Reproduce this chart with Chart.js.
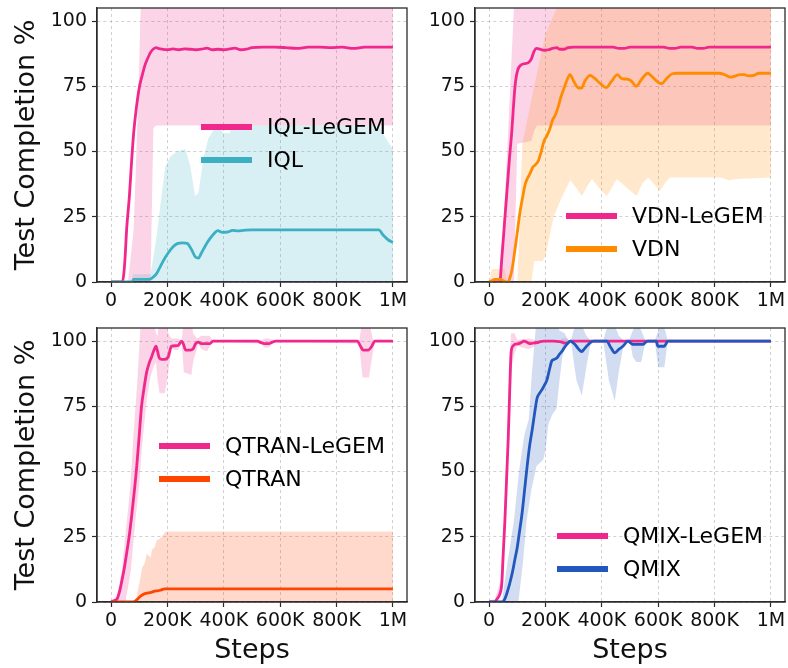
<!DOCTYPE html>
<html>
<head>
<meta charset="utf-8">
<script src="https://cdn.jsdelivr.net/npm/chart.js@4.4.0/dist/chart.umd.min.js"></script>
<style>
  html, body { margin: 0; padding: 0; background: #fff; }
  #wrap { position: relative; width: 788px; height: 668px; }
  canvas { position: absolute; }
</style>
</head>
<body>
<div id="wrap">
  <canvas id="iqlChart" style="left:0;top:0" width="420" height="320"></canvas>
  <canvas id="vdnChart" style="left:420px;top:0" width="368" height="320"></canvas>
  <canvas id="qtranChart" style="left:0;top:320px" width="420" height="348"></canvas>
  <canvas id="qmixChart" style="left:420px;top:320px" width="368" height="348"></canvas>
</div>
<script>
// ejes compartidos (pasos en miles)
const xTicks = [0, 200, 400, 600, 800, 1000];
const xTickLabels = ['0', '200K', '400K', '600K', '800K', '1M'];
const yTicks = [0, 25, 50, 75, 100];

// cada serie: [paso (K), % completado]
const iqlLegemMean = [[0,0],[40,0],[45,3],[50,10],[55,20],[65,33],[72,45],[80,57],[90,67],[101,75],[110,79],[120,83],[127,85],[140,88],[150,89.3],[160,89.8],[170,89.4],[180,89.2],[200,89],[220,89.3],[240,89],[260,89.3],[280,89.2],[300,89],[320,89.2],[340,89.6],[360,89],[380,89.2],[400,89],[420,89.3],[440,89.6],[460,89],[480,89.2],[500,89.8],[540,90],[580,90],[620,89.8],[660,89.5],[700,90],[740,90],[780,89.8],[820,90],[860,89.5],[900,90],[1000,90]];
const iqlLegemHi = [[0,0],[60,0],[80,20],[90,50],[100,85],[106,110],[1000,110]];
const iqlLegemLo = [[0,0],[140,0],[150,59],[160,60],[1000,60]];
const iqlMean = [[0,0],[75,0],[80,1],[135,1],[145,1.5],[160,3],[175,6],[190,9],[205,11.5],[220,13.5],[235,14.7],[255,15],[270,14.8],[285,12.5],[300,9.5],[310,9.2],[320,11],[335,14],[350,16.5],[365,18.5],[378,19.7],[395,19],[415,19.2],[430,19.8],[450,19.6],[470,19.8],[500,20],[950,20],[965,18],[985,16],[1000,15.2]];
const iqlHi = [[0,0],[72,0],[78,3],[140,3],[148,8],[162,18],[178,32],[192,44],[210,48],[233,50],[263,51],[280,45],[298,33],[310,34],[327,47],[345,55],[362,58],[380,60],[398,57],[420,57],[432,60],[950,60],[975,55],[1000,51]];
const iqlLo = [[0,0],[1000,0]];

const vdnLegemMean = [[0,0],[38,0],[45,9],[55,23],[65,37],[72,47],[80,57],[92,75],[101,81],[115,83.3],[139,84],[150,85.5],[160,88.5],[168,89.5],[180,89.2],[195,88.8],[210,89],[225,89.5],[240,89.8],[250,89.2],[265,89.2],[280,89.8],[300,90],[440,90],[460,89.5],[480,89.5],[500,90],[620,90],[640,89.5],[660,89.5],[680,90],[720,90],[740,89.5],[760,89.5],[780,90],[1000,90]];
const vdnLegemHi = [[0,0],[40,0],[55,30],[65,52],[75,75],[85,98],[90,110],[1000,110]];
const vdnLegemLo = [[0,0],[88,0],[100,53],[150,54],[160,58],[170,60],[1000,60]];
const vdnMean = [[0,0],[10,0.5],[20,1],[40,1],[50,0.5],[60,0],[68,0],[75,2],[80,4],[90,11],[100,19],[110,27],[120,33],[127,37],[135,39.5],[145,41.5],[155,44],[165,45],[175,46.5],[185,50],[195,54],[205,56],[215,58.5],[225,62],[235,64],[245,67],[255,71],[265,74],[275,77],[287,79.5],[300,77],[315,74.5],[328,74.3],[340,77],[358,79.2],[375,78],[395,76],[415,74.5],[435,77],[455,79.5],[470,78],[490,77.7],[505,77],[522,75],[540,77.5],[563,80],[580,78.5],[600,76.5],[612,76],[630,78],[650,79.8],[670,80],[815,80],[835,79.5],[857,78.5],[875,79],[890,79.5],[905,79.5],[920,79],[940,79.2],[958,80],[1000,80]];
const vdnHi = [[0,0],[10,5],[55,5],[65,0],[100,0],[106,15],[118,53],[160,75],[200,95],[240,105],[250,110],[1000,110]];
const vdnLo = [[0,0],[150,0],[160,8],[190,8],[200,10],[229,25],[260,33],[288,39],[310,36],[329,33],[350,37],[365,39.5],[390,36],[418,33],[440,37],[453,39.5],[490,36],[523,33],[545,38],[565,40],[590,37],[606,35],[625,38],[641,40],[820,40],[850,39],[880,39.5],[1000,40]];

const qtranLegemMean = [[0,0],[10,0.5],[20,1],[30,4],[38,8],[47,13],[55,18.6],[64,25],[73,33],[82,42],[91,52],[100,64],[108,75],[117,82],[126,88],[135,91.5],[144,94],[152,96.5],[159,98],[165,96],[171,93.5],[180,93],[191,93],[203,94],[214,98],[226,98.2],[238,98.3],[250,100],[256,99],[265,96.5],[280,96.5],[291,97],[300,99],[309,99.6],[320,99],[350,99],[362,100],[520,100],[530,99.5],[545,99],[560,99],[570,99.5],[585,100],[874,100],[885,98],[895,96.5],[912,96.5],[925,98],[936,100],[1000,100]];
const qtranLegemHi = [[0,0],[20,2],[38,12],[55,30],[68,44],[80,65],[92,83],[104,105],[110,108],[150,108],[159,103],[165,102],[172,108],[195,108],[203,103],[214,101],[238,101],[250,100],[258,108],[285,108],[291,103],[305,101],[320,102],[350,102],[362,100],[530,100],[545,101],[560,101],[585,100],[880,100],[892,108],[915,108],[928,101],[936,100],[1000,100]];
const qtranLegemLo = [[0,0],[51,0],[70,12],[86,31],[100,45],[110,60],[127,78],[139,86],[150,90],[159,92],[165,85],[172,80],[191,80],[203,88],[214,97],[238,96.5],[250,100],[258,88],[285,87],[291,92],[309,99],[320,97],[340,96],[362,100],[530,99],[545,97.5],[560,97.5],[585,100],[880,99],[892,86],[915,86],[928,95],[936,100],[1000,100]];
const qtranMean = [[0,0],[78,0],[90,0.7],[102,2],[115,3],[132,3.5],[145,3.8],[155,4.2],[165,4.3],[175,4.5],[190,5],[1000,5]];
const qtranHi = [[0,0],[85,0],[92,3],[102,8],[110,13],[120,15],[127,18.6],[140,17],[145,20],[155,21],[162,23.7],[170,24],[180,25],[192,26.8],[200,27],[1000,27]];
const qtranLo = [[0,0],[1000,0]];

const qmixLegemMean = [[0,0],[18,0],[29,1.3],[38,3],[45,7],[50,18],[56,31],[62,47],[68,63],[73,80],[78,95.5],[84,98],[90,98.7],[106,99],[115,99.5],[123,100],[135,99.5],[147,99],[160,99.3],[170,99.4],[182,99.8],[194,100],[229,100],[250,99.8],[264,99.4],[276,99],[288,100],[1000,100]];
const qmixLegemHi = [[0,0],[20,1],[40,8],[55,35],[65,65],[72,90],[78,103],[90,103],[100,100.5],[140,101],[160,100.5],[190,100],[250,100],[260,101],[275,101],[290,100],[1000,100]];
const qmixLegemLo = [[0,0],[45,3],[56,25],[66,55],[74,75],[80,90],[90,95],[100,98],[140,97],[155,97.5],[165,98.5],[190,100],[255,100],[262,98],[275,98.5],[290,100],[1000,100]];
const qmixMean = [[0,0],[45,0],[53,0.6],[59,2],[65,4],[73,7],[82,11],[91,16],[100,21],[108,27],[117,34],[126,43],[135,52],[144,60],[153,66],[161,72],[170,78],[179,80],[188,81.4],[196,83],[205,85],[214,89],[223,92.5],[232,93],[241,93.6],[250,95],[258,96],[267,97.5],[276,98.7],[288,100],[296,99.5],[305,98.7],[317,97],[329,96],[338,97],[346,98],[358,99.3],[370,100],[417,100],[432,97.5],[446,95.5],[460,96.8],[475,98],[493,100],[502,99.3],[510,98.7],[546,98.7],[555,99.5],[563,100],[593,100],[599,98],[622,98],[628,99],[634,100],[1000,100]];
const qmixHi = [[0,0],[45,0],[65,15],[88,31],[106,50],[125,64],[141,70],[150,85],[158,95.5],[168,108],[230,108],[250,104],[268,103],[280,100.5],[290,100],[300,104],[315,108],[329,106],[345,102],[362,100],[405,100],[415,104],[430,108],[446,106],[460,102],[480,100],[495,100],[510,104],[525,107],[540,104],[555,100],[588,100],[600,104],[612,107],[625,104],[634,100],[1000,100]];
const qmixLo = [[0,0],[104,0],[120,15],[133,31],[150,43],[168,52],[192,54.5],[200,58],[210,68],[225,72],[239,74],[250,85],[260,94],[275,99],[290,100],[310,85],[329,79],[345,90],[362,100],[405,100],[425,85],[446,77],[460,88],[480,100],[500,100],[510,94],[522,92],[540,92],[555,100],[588,100],[600,90],[622,90],[634,100],[1000,100]];

const PINK = '#f0288c';
const FONT = 'DejaVu Sans';

const pts = arr => arr.map(([x, y]) => ({ x, y }));

function rgba(hex, a) {
  const n = parseInt(hex.slice(1), 16);
  return `rgba(${n >> 16},${(n >> 8) & 255},${n & 255},${a})`;
}

// banda (hi/lo rellena) + línea media para una serie
function serie(label, color, mean, hi, lo, order) {
  return [
    { label: label + ' hi', data: pts(hi), borderWidth: 0, pointRadius: 0, fill: false, order: order + 10 },
    { label: label + ' lo', data: pts(lo), borderWidth: 0, pointRadius: 0, fill: '-1',
      backgroundColor: rgba(color, 0.2), order: order + 10 },
    { label, data: pts(mean), borderColor: color, borderWidth: 2.8, pointRadius: 0, fill: false,
      cubicInterpolationMode: 'monotone', order }
  ];
}

// marco completo de los ejes y leyenda dentro del área
const panelLegend = {
  id: 'panelLegend',
  afterDatasetsDraw(chart, args, opts) {
    const { ctx, chartArea: a } = chart;
    ctx.save();
    ctx.strokeStyle = '#2b2b2b';
    ctx.lineWidth = 1.3;
    ctx.strokeRect(a.left, a.top, a.right - a.left, a.bottom - a.top);
    ctx.font = `22px "${FONT}"`;
    ctx.textBaseline = 'middle';
    opts.items.forEach((it, i) => {
      const x = a.left + opts.x;
      const y = a.top + opts.y + i * 33;
      ctx.strokeStyle = it.color;
      ctx.lineWidth = 6;
      ctx.beginPath();
      ctx.moveTo(x, y);
      ctx.lineTo(x + 51, y);
      ctx.stroke();
      ctx.fillStyle = '#000';
      ctx.fillText(it.label, x + 66, y + 1);
    });
    ctx.restore();
  }
};

function crearPanel(id, p) {
  const gridColor = 'rgba(170,170,170,0.55)';
  new Chart(document.getElementById(id), {
    type: 'line',
    data: { datasets: [...serie(p.names[0], PINK, ...p.legem, 1), ...serie(p.names[1], p.color, ...p.base, 0)] },
    options: {
      responsive: false,
      animation: false,
      layout: { padding: { left: 0, top: 8, right: p.padRight, bottom: 0 } },
      plugins: {
        legend: { display: false },
        tooltip: { enabled: false },
        panelLegend: { x: p.legend[0], y: p.legend[1], items: [{ label: p.names[0], color: PINK }, { label: p.names[1], color: p.color }] }
      },
      scales: {
        x: {
          type: 'linear', min: -50, max: 1050,
          afterBuildTicks: s => { s.ticks = xTicks.map(v => ({ value: v })); },
          afterFit: s => { s.height = p.xHeight; s.paddingLeft = 0; s.paddingRight = 0; },
          ticks: { callback: (v, i) => xTickLabels[i], font: { family: FONT, size: 19 }, color: '#111', padding: 3, maxRotation: 0, autoSkip: false },
          grid: { color: gridColor, lineWidth: 1, tickLength: 5, tickColor: '#2b2b2b', tickWidth: 1.2 },
          border: { display: true, color: '#2b2b2b', width: 1.3, dash: [3, 3] },
          title: { display: p.xTitle, text: 'Steps', font: { family: FONT, size: 27 }, color: '#111', padding: { top: 0, bottom: 1 } }
        },
        y: {
          min: 0, max: 105,
          afterBuildTicks: s => { s.ticks = yTicks.map(v => ({ value: v })); },
          afterFit: s => { s.width = p.yWidth; s.paddingTop = 0; s.paddingBottom = 0; },
          ticks: { font: { family: FONT, size: 19 }, color: '#111', padding: 5 },
          grid: { color: gridColor, lineWidth: 1, tickLength: 5, tickColor: '#2b2b2b', tickWidth: 1.2 },
          border: { display: true, color: '#2b2b2b', width: 1.3, dash: [3, 3] },
          title: { display: p.yTitle, text: 'Test Completion %', font: { family: FONT, size: 27 }, color: '#111', padding: { top: 11, bottom: 0 } }
        }
      }
    },
    plugins: [panelLegend]
  });
}

crearPanel('iqlChart', {
  names: ['IQL-LeGEM', 'IQL'], color: '#3bb0c4',
  legem: [iqlLegemMean, iqlLegemHi, iqlLegemLo], base: [iqlMean, iqlHi, iqlLo],
  yWidth: 97, xHeight: 38, padRight: 13, yTitle: true, xTitle: false, legend: [104, 119]
});
crearPanel('vdnChart', {
  names: ['VDN-LeGEM', 'VDN'], color: '#ff8c00',
  legem: [vdnLegemMean, vdnLegemHi, vdnLegemLo], base: [vdnMean, vdnHi, vdnLo],
  yWidth: 55, xHeight: 38, padRight: 3, yTitle: false, xTitle: false, legend: [91, 208]
});
crearPanel('qtranChart', {
  names: ['QTRAN-LeGEM', 'QTRAN'], color: '#ff4500',
  legem: [qtranLegemMean, qtranLegemHi, qtranLegemLo], base: [qtranMean, qtranHi, qtranLo],
  yWidth: 97, xHeight: 66, padRight: 13, yTitle: true, xTitle: true, legend: [62, 118]
});
crearPanel('qmixChart', {
  names: ['QMIX-LeGEM', 'QMIX'], color: '#2257bd',
  legem: [qmixLegemMean, qmixLegemHi, qmixLegemLo], base: [qmixMean, qmixHi, qmixLo],
  yWidth: 55, xHeight: 66, padRight: 3, yTitle: false, xTitle: true, legend: [82, 208]
});
</script>
</body>
</html>
